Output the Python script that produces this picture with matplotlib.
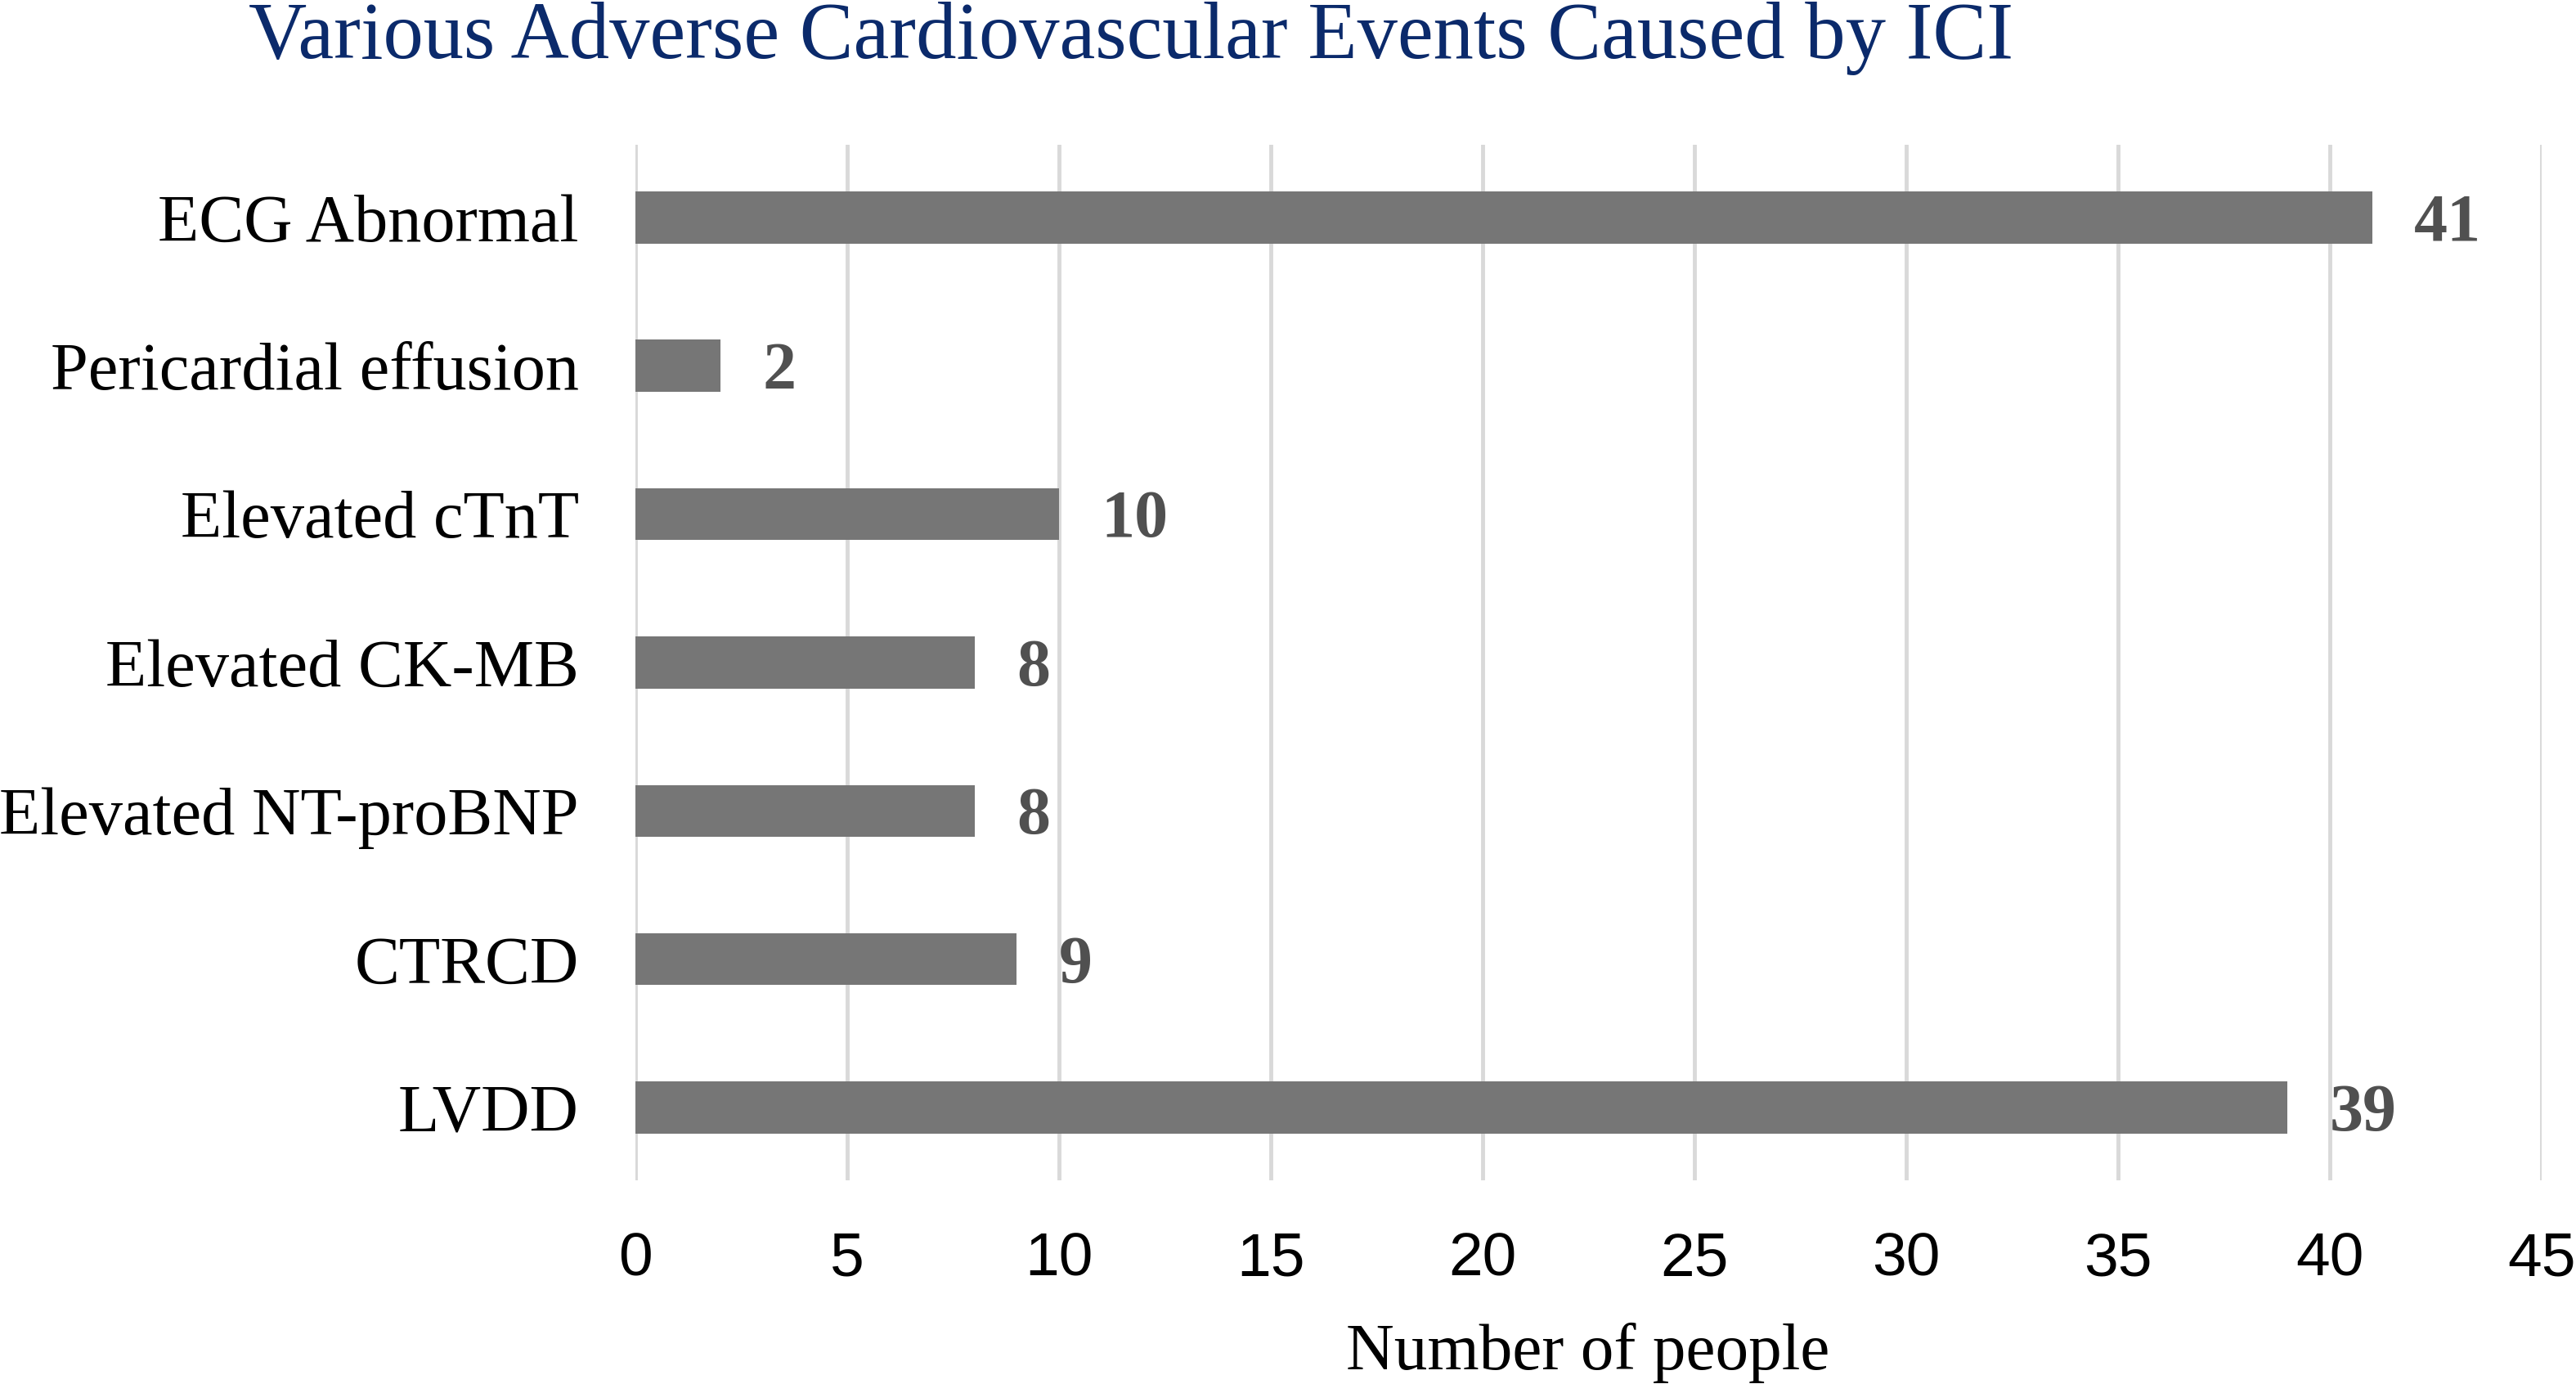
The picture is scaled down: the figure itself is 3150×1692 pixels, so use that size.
import matplotlib
matplotlib.use("Agg")
import matplotlib.pyplot as plt

# data, top to bottom as shown
events = ["ECG Abnormal", "Pericardial effusion", "Elevated cTnT", "Elevated CK-MB",
          "Elevated NT-proBNP", "CTRCD", "LVDD"]
counts = [41, 2, 10, 8, 8, 9, 39]
xticks = [0, 5, 10, 15, 20, 25, 30, 35, 40, 45]

serif = "Liberation Serif"
sans = "Liberation Sans"

fig = plt.figure(figsize=(31.5, 16.92), dpi=100)
ax = fig.add_axes([0.2467, 0.1472, 0.74, 0.7482])

pos = list(range(len(events)))[::-1]
ax.barh(pos, counts, height=0.35, color="#767676", zorder=3)

for y, v in zip(pos, counts):
    ax.annotate(str(v), (v, y), xytext=(37, -6), textcoords="offset points",
                ha="left", va="center", fontsize=59, fontweight="bold",
                family=serif, color="#505050")

ax.set_xlim(0, 45)
ax.set_ylim(-0.49, 6.49)
ax.set_xticks(xticks)
ax.set_xticklabels([str(t) for t in xticks], family=sans, fontsize=54)
ax.set_yticks(pos)
ax.set_yticklabels(events, family=serif, fontsize=59.3)
ax.tick_params(axis="x", length=0, pad=45)
ax.tick_params(axis="y", length=0, pad=50)
ax.grid(axis="x", color="#D9D9D9", linewidth=3.5, zorder=0)
for s in ax.spines.values():
    s.set_visible(False)

fig.text(0.439, 0.958, "Various Adverse Cardiovascular Events Caused by ICI",
         ha="center", va="baseline", fontsize=71, family=serif, color="#0B2A6B")
fig.text(0.6165, 0.0106, "Number of people", ha="center", va="baseline",
         fontsize=58.5, family=serif, color="black")

fig.savefig("out.png", dpi=100, facecolor="white")
